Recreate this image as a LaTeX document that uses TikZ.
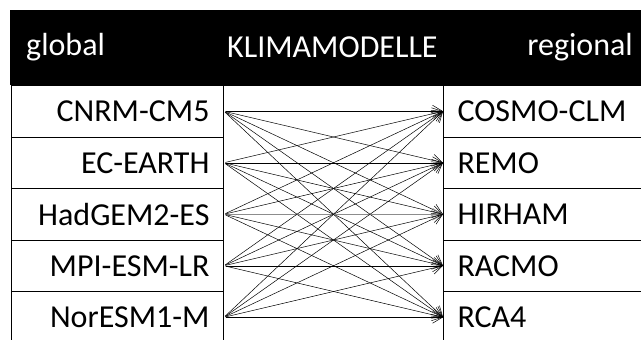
\documentclass[tikz,border=0pt]{standalone}
\usepackage{fontspec}
\setmainfont{Carlito}
\usetikzlibrary{arrows.meta}
\tikzset{
  cell/.style={draw=black, line width=1pt, minimum height=51.5pt, inner ysep=0pt, font=\fontsize{32}{36}\selectfont},
  lcell/.style={cell, text width=184pt, inner xsep=14pt, minimum width=212pt, align=right},
  rcell/.style={cell, text width=190pt, inner xsep=14pt, minimum width=218pt, align=left},
  head/.style={text=white, font=\fontsize{32}{36}\selectfont, inner sep=0pt},
  link/.style={line width=0.5pt, -{Straight Barb[length=10pt,width=12pt,line width=0.5pt]}, shorten <=1.5pt}
}
\begin{document}
\begin{tikzpicture}[x=1pt,y=-1pt]
\useasboundingbox[fill=white] (0,0) rectangle (641,340);
\fill[black] (10,10) rectangle (645,85);
\node[head, anchor=west] (hg) at (26,47) {global};
\node[head, anchor=west] (hk) at (227,47) {KLIMAMODELLE};
\node[head, anchor=east] (hr) at (633,47) {regional};
\foreach \t [count=\i] in {CNRM-CM5,EC-EARTH,HadGEM2-ES,MPI-ESM-LR,NorESM1-M}{
  \node[lcell, anchor=north west] (l\i) at (11,{85+(\i-1)*51.5}) {\t};
}
\foreach \t [count=\i] in {COSMO-CLM,REMO,HIRHAM,RACMO,RCA4}{
  \node[rcell, anchor=north west] (r\i) at (443,{85+(\i-1)*51.5}) {\t};
}
\draw[line width=1pt] (l1.north east) -- (r1.north west);
\foreach \i in {1,...,5}{
  \foreach \j in {1,...,5}{
    \ifnum\i=\j
      \ifnum\i=3
        \draw[link, draw=black!45] (l\i.east) -- (r\j.west);
      \else
        \draw[link] (l\i.east) -- (r\j.west);
      \fi
    \else
      \draw[link] (l\i.east) -- (r\j.west);
    \fi
  }
}
\end{tikzpicture}
\end{document}
